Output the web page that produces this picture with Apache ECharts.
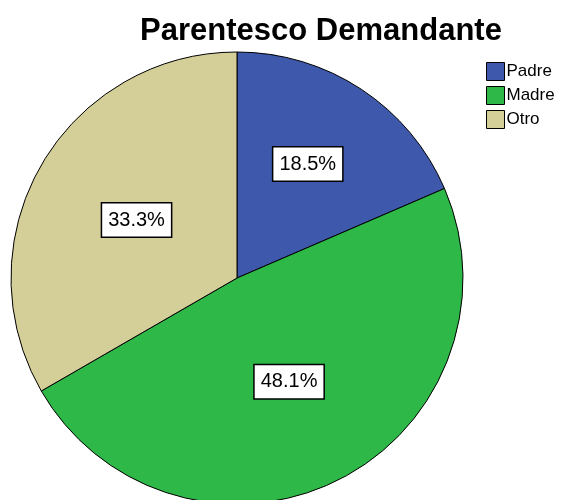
<!DOCTYPE html>
<html>
<head>
    <meta charset="utf-8" />
    <title>Parentesco Demandante</title>
    <script src="https://cdn.jsdelivr.net/npm/echarts@6/dist/echarts.min.js"></script>
    <style>
        body { margin: 0; background: #fff; }
        #main { width: 565px; height: 500px; }
    </style>
</head>
<body>
    <div id="main"></div>
    <script>
    // datos del grafico
    var categorias = ['Padre', 'Madre', 'Otro'];
    var frecuencias = [5, 13, 9];
    var colores = ['#3E58AC', '#2EB848', '#D4CE99'];

    // la etiqueta de Padre sale un poco mas afuera en el original
    var desplazamientos = [[7, -17], [0, 0], [0, 0]];

    var datos = [];
    for (var i = 0; i < categorias.length; i++) {
        datos.push({
            name: categorias[i],
            value: frecuencias[i],
            itemStyle: { color: colores[i] },
            label: { offset: desplazamientos[i] }
        });
    }

    var myChart = echarts.init(document.getElementById('main'));
    var option = {
        animation: false,
        title: {
            text: 'Parentesco Demandante',
            left: 316,
            top: 11,
            textAlign: 'center',
            textStyle: { fontFamily: 'Liberation Sans', fontSize: 31, fontWeight: 'bold', color: '#000' }
        },
        legend: {
            orient: 'vertical',
            left: 481,
            top: 57,
            itemWidth: 18,
            itemHeight: 18,
            itemGap: 5,
            icon: 'rect',
            data: categorias,
            itemStyle: { borderColor: '#000', borderWidth: 1 },
            textStyle: { fontFamily: 'Liberation Sans', fontSize: 17, color: '#000', padding: [0, 0, 0, -3] }
        },
        series: [
            {
                type: 'pie',
                center: [237, 278],
                radius: 226,
                startAngle: 90,
                clockwise: true,
                itemStyle: { borderColor: '#000', borderWidth: 1 },
                label: {
                    position: 'inside',
                    formatter: function (p) { return p.percent.toFixed(1) + '%'; },
                    fontFamily: 'Liberation Sans',
                    fontSize: 20,
                    color: '#000',
                    backgroundColor: '#fff',
                    borderColor: '#000',
                    borderWidth: 1.5,
                    padding: [7, 6, 6, 6]
                },
                labelLine: { show: false },
                emphasis: { disabled: true },
                data: datos
            }
        ]
    };
    myChart.setOption(option);
    </script>
</body>
</html>
